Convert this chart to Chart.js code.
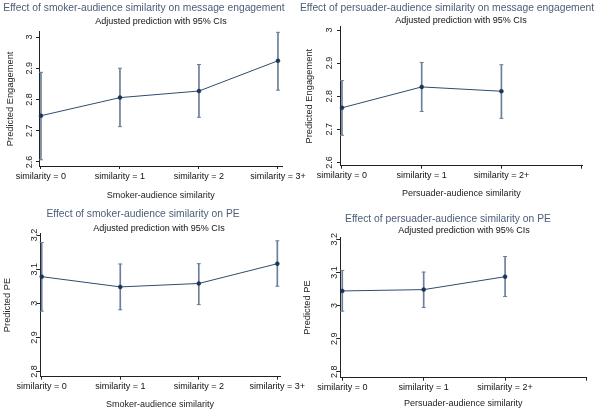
<!DOCTYPE html>
<html lang="en">
<head>
<meta charset="UTF-8" />
<title>Similarity effects</title>
<style>
  body { margin: 0; background: #fff; font-family: "Liberation Sans", Arial, sans-serif; }
  .wrap { position: relative; width: 600px; height: 413px; overflow: hidden; background: #fff; }
  canvas { position: absolute; }
  .title, .sub { position: absolute; white-space: nowrap; transform: translate(-50%, -50%); line-height: 1; }
  .title { color: #4b5d78; font-size: 10.3px; }
  .sub { color: #111; font-size: 9px; }
</style>
</head>
<body>
<div class="wrap">
  <canvas id="c1" width="315" height="206" style="left:0;top:0"></canvas>
  <canvas id="c2" width="300" height="206" style="left:300px;top:0"></canvas>
  <canvas id="c3" width="315" height="207" style="left:0;top:206px"></canvas>
  <canvas id="c4" width="300" height="207" style="left:300px;top:206px"></canvas>

  <div class="title" style="left:144px;top:8px">Effect of smoker-audience similarity on message engagement</div>
  <div class="sub" style="left:161px;top:21px">Adjusted prediction with 95% CIs</div>
  <div class="title" style="left:447px;top:8px">Effect of persuader-audience similarity on message engagement</div>
  <div class="sub" style="left:461px;top:20px">Adjusted prediction with 95% CIs</div>
  <div class="title" style="left:143px;top:214px">Effect of smoker-audience similarity on PE</div>
  <div class="sub" style="left:159px;top:228px">Adjusted prediction with 95% CIs</div>
  <div class="title" style="left:448px;top:219px">Effect of persuader-audience similarity on PE</div>
  <div class="sub" style="left:464px;top:230px">Adjusted prediction with 95% CIs</div>
</div>

<script src="https://cdn.jsdelivr.net/npm/chart.js"></script>
<script>
  // categories
  const smokerLabels = ["similarity = 0", "similarity = 1", "similarity = 2", "similarity = 3+"];
  const persuaderLabels = ["similarity = 0", "similarity = 1", "similarity = 2+", ""];
  const xTicks = [0, 1, 2, 3];

  // predicted engagement
  const engSmoker = [2.748, 2.806, 2.827, 2.924];
  const engSmokerLo = [2.607, 2.713, 2.743, 2.830];
  const engSmokerHi = [2.887, 2.900, 2.912, 3.015];
  const engPersuader = [2.765, 2.828, 2.815];
  const engPersuaderLo = [2.682, 2.754, 2.733];
  const engPersuaderHi = [2.847, 2.902, 2.895];

  // predicted PE
  const peSmoker = [3.078, 3.048, 3.058, 3.116];
  const peSmokerLo = [2.977, 2.981, 2.996, 3.050];
  const peSmokerHi = [3.178, 3.115, 3.116, 3.183];
  const pePersuader = [3.044, 3.048, 3.087];
  const pePersuaderLo = [2.983, 2.994, 3.027];
  const pePersuaderHi = [3.106, 3.101, 3.148];

  // y tick values
  const engTicks = [2.6, 2.7, 2.8, 2.9, 3];
  const peTicks = [2.8, 2.9, 3, 3.1, 3.2];

  const FONT = '"Liberation Sans", Arial, sans-serif';
  const AXIS = '#222';
  const LINE = '#2e4d6e';
  const DOT = '#1a3555';
  const CI = '#6a7f98';

  // stata-style vertical y labels
  const rotatedYLabels = {
    id: 'rotatedYLabels',
    afterDraw(chart) {
      const y = chart.scales.y;
      const o = chart.options.plugins.rotatedYLabels;
      const ctx = chart.ctx;
      ctx.save();
      ctx.fillStyle = '#222';
      ctx.font = '9px ' + FONT;
      ctx.textAlign = 'center';
      ctx.textBaseline = 'middle';
      y.ticks.forEach(t => {
        ctx.save();
        ctx.translate(chart.chartArea.left - o.offset, y.getPixelForValue(t.value));
        ctx.rotate(-Math.PI / 2);
        ctx.fillText(String(Math.round(t.value * 10) / 10), 0, 0);
        ctx.restore();
      });
      ctx.restore();
    }
  };

  function xy(vals) {
    return vals.map((v, i) => ({ x: i, y: v }));
  }

  function makePanel(id, p) {
    const canvas = document.getElementById(id);
    const W = canvas.width, H = canvas.height;
    new Chart(canvas, {
      type: 'bar',
      data: {
        datasets: [
          {
            type: 'line',
            data: xy(p.mean),
            borderColor: LINE,
            borderWidth: 1,
            pointRadius: 2,
            pointBackgroundColor: DOT,
            pointBorderColor: DOT,
            pointBorderWidth: 0.5,
            tension: 0,
            clip: false,
            order: 0
          },
          {
            type: 'bar',
            data: p.lo.map((v, i) => ({ x: i, y: [v, p.hi[i]] })),
            backgroundColor: CI,
            barThickness: 1,
            clip: false,
            order: 2
          },
          {
            type: 'line',
            data: xy(p.lo),
            showLine: false,
            pointStyle: 'line',
            pointRadius: 2,
            pointBorderWidth: 1,
            pointBorderColor: CI,
            clip: false,
            order: 1
          },
          {
            type: 'line',
            data: xy(p.hi),
            showLine: false,
            pointStyle: 'line',
            pointRadius: 2,
            pointBorderWidth: 1,
            pointBorderColor: CI,
            clip: false,
            order: 1
          }
        ]
      },
      options: {
        responsive: false,
        animation: false,
        events: [],
        layout: {
          padding: { left: 0, top: p.area.top, right: W - p.area.right, bottom: 0 }
        },
        plugins: {
          legend: { display: false },
          tooltip: { enabled: false },
          rotatedYLabels: { offset: p.yLabelOffset }
        },
        scales: {
          x: {
            type: 'linear',
            offset: false,
            min: p.xMin,
            max: p.xMax,
            border: { display: true, color: AXIS, width: 1 },
            grid: { display: true, offset: false, drawOnChartArea: false, drawTicks: true, tickLength: 3, color: AXIS },
            ticks: {
              color: '#111',
              font: { family: FONT, size: 9 },
              padding: p.xTickPad,
              maxRotation: 0,
              minRotation: 0,
              autoSkip: false,
              callback: (v, i) => p.labels[i]
            },
            afterBuildTicks: s => { s.ticks = xTicks.map(v => ({ value: v })); },
            afterFit: s => {
              s.height = H - p.area.bottom;
              s.paddingLeft = 0;
              s.paddingRight = 0;
            },
            title: {
              display: true,
              text: p.xTitle,
              color: '#222',
              font: { family: FONT, size: 9 },
              padding: { top: 0, bottom: p.xTitlePad }
            }
          },
          y: {
            type: 'linear',
            min: p.yMin,
            max: p.yMax,
            border: { display: true, color: AXIS, width: 1 },
            grid: { display: true, drawOnChartArea: false, drawTicks: true, tickLength: 3, color: AXIS },
            ticks: { display: false },
            afterBuildTicks: s => { s.ticks = p.yTicks.map(v => ({ value: v })); },
            afterFit: s => {
              s.width = p.area.left;
              s.paddingTop = 0;
              s.paddingBottom = 0;
            },
            title: {
              display: true,
              text: p.yTitle,
              color: '#222',
              font: { family: FONT, size: 9.3 },
              padding: { top: p.yTitlePad, bottom: 0 }
            }
          }
        }
      },
      plugins: [rotatedYLabels]
    });
  }

  makePanel('c1', {
    labels: smokerLabels, mean: engSmoker, lo: engSmokerLo, hi: engSmokerHi,
    yTicks: engTicks, yMin: 2.587, yMax: 3.017, xMin: -0.025, xMax: 3.06,
    area: { left: 39, right: 282.7, top: 31.7, bottom: 166 },
    yTitle: 'Predicted Engagement', xTitle: 'Smoker-audience similarity',
    yLabelOffset: 9.3, yTitlePad: 4.9, xTickPad: 2, xTitlePad: 4.6
  });

  makePanel('c2', {
    labels: persuaderLabels, mean: engPersuader, lo: engPersuaderLo, hi: engPersuaderHi,
    yTicks: engTicks, yMin: 2.59, yMax: 3.01, xMin: -0.025, xMax: 3.02,
    area: { left: 40, right: 282.7, top: 26.7, bottom: 165.7 },
    yTitle: 'Predicted Engagement', xTitle: 'Persuader-audience similarity',
    yLabelOffset: 10.3, yTitlePad: 3.4, xTickPad: 1.5, xTitlePad: 7.3
  });

  makePanel('c3', {
    labels: smokerLabels, mean: peSmoker, lo: peSmokerLo, hi: peSmokerHi,
    yTicks: peTicks, yMin: 2.785, yMax: 3.205, xMin: -0.022, xMax: 3.034,
    area: { left: 40, right: 280, top: 27.3, bottom: 170.7 },
    yTitle: 'Predicted PE', xTitle: 'Smoker-audience similarity',
    yLabelOffset: 5.5, yTitlePad: 2.2, xTickPad: 1.5, xTitlePad: 2.6
  });

  makePanel('c4', {
    labels: persuaderLabels, mean: pePersuader, lo: pePersuaderLo, hi: pePersuaderHi,
    yTicks: peTicks, yMin: 2.782, yMax: 3.206, xMin: -0.028, xMax: 3.0,
    area: { left: 40, right: 286.5, top: 31.3, bottom: 171.7 },
    yTitle: 'Predicted PE', xTitle: 'Persuader-audience similarity',
    yLabelOffset: 5.3, yTitlePad: 2.2, xTickPad: 1, xTitlePad: 3.6
  });
</script>
</body>
</html>
